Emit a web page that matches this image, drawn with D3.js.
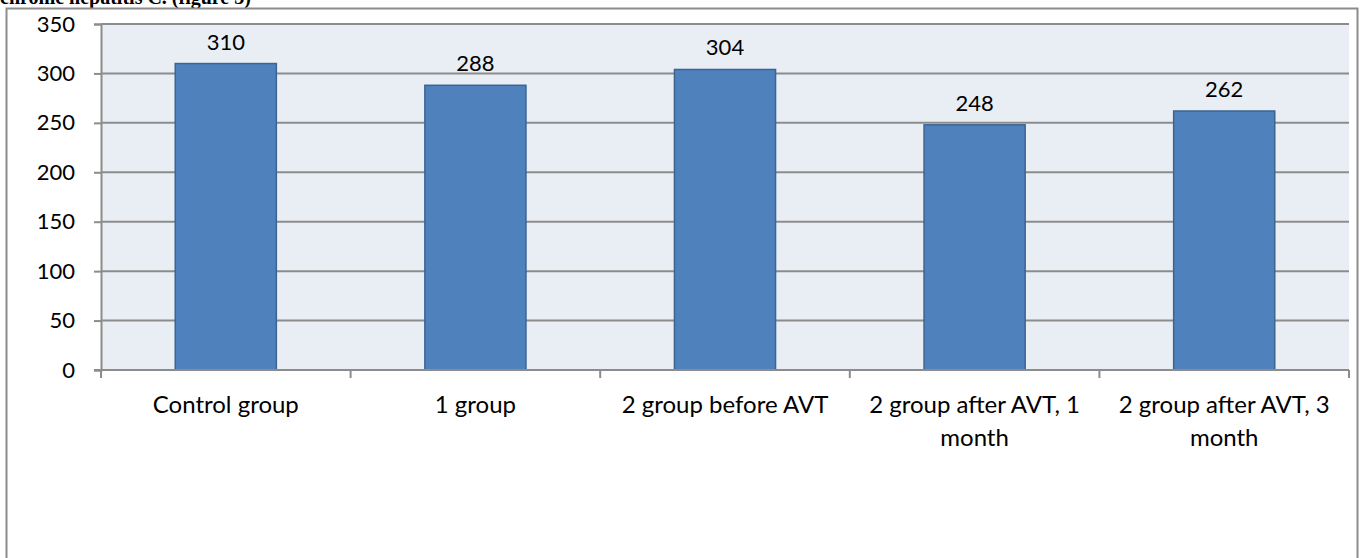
<!DOCTYPE html>
<html>
<head>
<meta charset="utf-8">
<script src="https://cdn.jsdelivr.net/npm/d3@7/dist/d3.min.js"></script>
<style>
  html, body { margin: 0; padding: 0; background: #fff; }
  svg { display: block; }
</style>
</head>
<body>
<svg id="chart" width="1363" height="558"></svg>
<script>
// Platelet counts by study group
const categories = [
  ["Control group"],
  ["1 group"],
  ["2 group before AVT"],
  ["2 group after AVT, 1", "month"],
  ["2 group after AVT, 3", "month"]
];
const values = [310, 288, 304, 248, 262];
const yTicks = [0, 50, 100, 150, 200, 250, 300, 350];
const caption = "chronic hepatitis C. (figure 3)";

const svg = d3.select("#chart");
const font = "Lato, 'Open Sans', sans-serif";

// Caption line above the chart frame (runs off the top edge)
svg.append("text")
  .attr("x", 0).attr("y", 4)
  .attr("font-family", "'Liberation Serif', 'Times New Roman', serif")
  .attr("font-weight", "bold")
  .attr("font-size", 20)
  .attr("fill", "#000")
  .text(caption);

// Chart frame
svg.append("rect")
  .attr("x", 6.5).attr("y", 8.5)
  .attr("width", 1351).attr("height", 560)
  .attr("fill", "#fff")
  .attr("stroke", "#8c8c8c")
  .attr("stroke-width", 2);

const plot = { left: 101, right: 1349, top: 24, bottom: 370 };

const x = d3.scaleBand()
  .domain(d3.range(categories.length))
  .range([plot.left, plot.right])
  .paddingInner(0).paddingOuter(0);

const y = d3.scaleLinear()
  .domain([0, 350])
  .range([plot.bottom, plot.top]);

// Plot background
svg.append("rect")
  .attr("x", plot.left).attr("y", plot.top)
  .attr("width", plot.right - plot.left)
  .attr("height", plot.bottom - plot.top)
  .attr("fill", "#e9edf4");

// Horizontal gridlines
svg.append("g")
  .selectAll("line")
  .data(yTicks.filter(d => d > 0))
  .join("line")
  .attr("x1", plot.left).attr("x2", plot.right)
  .attr("y1", d => y(d)).attr("y2", d => y(d))
  .attr("stroke", "#8c8c8c")
  .attr("stroke-width", 2);

// Bars
const barW = x.bandwidth() * 0.405;
svg.append("g")
  .selectAll("rect")
  .data(values)
  .join("rect")
  .attr("x", (d, i) => x(i) + (x.bandwidth() - barW) / 2)
  .attr("y", d => y(d))
  .attr("width", barW)
  .attr("height", d => y(0) - y(d))
  .attr("fill", "#4f81bd")
  .attr("stroke", "#3b6492")
  .attr("stroke-width", 1.5);

// Value labels
svg.append("g")
  .selectAll("text")
  .data(values)
  .join("text")
  .attr("x", (d, i) => x(i) + x.bandwidth() / 2)
  .attr("y", d => y(d) - 14)
  .attr("text-anchor", "middle")
  .attr("font-family", font)
  .attr("font-size", 22)
  .attr("fill", "#000")
  .text(d => d);

// Y axis
const yAxis = svg.append("g")
  .attr("transform", `translate(${plot.left},0)`)
  .call(d3.axisLeft(y).tickValues(yTicks).tickSize(7).tickPadding(19));
yAxis.select(".domain").attr("stroke", "#8c8c8c").attr("stroke-width", 2);
yAxis.selectAll(".tick line").attr("stroke", "#8c8c8c").attr("stroke-width", 2);
yAxis.selectAll(".tick text")
  .attr("font-family", font).attr("font-size", 22).attr("fill", "#000");

// X axis with ticks on category boundaries
const xAxisG = svg.append("g");
xAxisG.append("line")
  .attr("x1", plot.left - 7).attr("x2", plot.right)
  .attr("y1", y(0)).attr("y2", y(0))
  .attr("stroke", "#8c8c8c").attr("stroke-width", 2);
const bounds = d3.range(categories.length + 1).map(i =>
  i < categories.length ? x(i) : x(i - 1) + x.bandwidth());
xAxisG.selectAll("line.tick")
  .data(bounds)
  .join("line")
  .attr("class", "tick")
  .attr("x1", d => d).attr("x2", d => d)
  .attr("y1", y(0)).attr("y2", y(0) + 8)
  .attr("stroke", "#8c8c8c").attr("stroke-width", 2);

// Category labels (wrapped onto two lines where needed)
const catText = svg.append("g")
  .selectAll("text")
  .data(categories)
  .join("text")
  .attr("x", (d, i) => x(i) + x.bandwidth() / 2)
  .attr("y", 413)
  .attr("text-anchor", "middle")
  .attr("font-family", font)
  .attr("font-size", 24)
  .attr("fill", "#000");
catText.selectAll("tspan")
  .data(d => d)
  .join("tspan")
  .attr("x", function () { return d3.select(this.parentNode).attr("x"); })
  .attr("dy", (d, i) => i === 0 ? 0 : 33)
  .text(d => d);
</script>
</body>
</html>
